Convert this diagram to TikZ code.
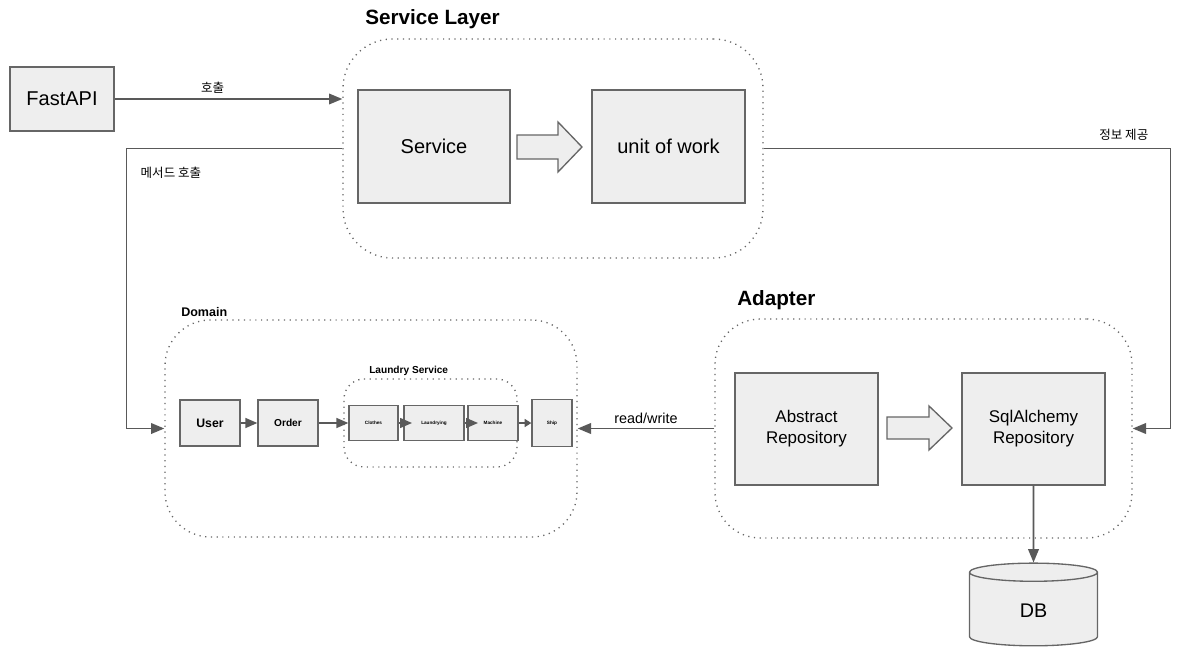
\documentclass[tikz,border=0pt]{standalone}
\usepackage{fontspec}
\setmainfont{Liberation Sans}
\newfontfamily\krfont{Noto Sans CJK KR}
\usetikzlibrary{arrows.meta, shapes.geometric}
\definecolor{boxfill}{HTML}{EEEEEE}
\definecolor{boxline}{HTML}{666666}
\definecolor{flowline}{HTML}{595959}

\begin{document}
\begin{tikzpicture}[x=0.75pt, y=-0.75pt,
  box/.style={draw=boxline, fill=boxfill, line width=1pt, inner sep=1pt, align=center},
  layerbox/.style={draw=boxline, line width=1pt, dash pattern=on 0.9pt off 3.4pt, inner sep=0pt},
  layertitle/.style={anchor=west, inner sep=0pt},
  flow/.style={draw=flowline, line width=1.2pt, -{Triangle[length=10pt,width=8pt]}},
  chain/.style={draw=flowline, line width=1.1pt, -{Triangle[length=9pt,width=7.5pt]}},
  krtext/.style={font=\krfont\fontsize{9.4}{11}\selectfont}
]
\useasboundingbox (0,0) rectangle (1195,671);

\node[box, minimum width=78pt, minimum height=48pt, font=\fontsize{15}{18}\selectfont] (fastapi) at (62,99) {FastAPI};

\node[layerbox, rounded corners=37pt, minimum width=315pt, minimum height=164.25pt] (svclayer) at (553,148.5) {};
\node[layertitle, font=\bfseries\fontsize{15.5}{18}\selectfont] (svctitle) at (365,19) {Service Layer};
\node[box, minimum width=114pt, minimum height=84.75pt, font=\fontsize{15}{18}\selectfont] (svc) at (434,146.5) {Service};
\node[box, minimum width=114.75pt, minimum height=84.75pt, font=\fontsize{15}{18}\selectfont] (uow) at (668.5,146.5) {unit of work};
\draw[draw=boxline, fill=boxfill, line width=1pt] (517,135) -- (558,135) -- (558,122) -- (582,147) -- (558,172) -- (558,159) -- (517,159) -- cycle;

\node[layerbox, rounded corners=34pt, minimum width=309pt, minimum height=162.75pt] (domain) at (371,428.5) {};
\node[layertitle, font=\bfseries\fontsize{9.4}{11}\selectfont] (domtitle) at (181,312) {Domain};
\node[layerbox, rounded corners=15pt, minimum width=129.75pt, minimum height=66pt] (laundry) at (430.5,423) {};
\node[layertitle, font=\bfseries\fontsize{7.6}{9}\selectfont] (laundrytitle) at (369,371) {Laundry Service};
\node[box, minimum width=45pt, minimum height=34.5pt, font=\bfseries\fontsize{9.2}{11}\selectfont] (user) at (210,423) {User};
\node[box, minimum width=45pt, minimum height=34.5pt, font=\bfseries\fontsize{7.6}{9}\selectfont] (order) at (288,423) {Order};
\node[box, minimum width=36.75pt, minimum height=26.25pt, font=\bfseries\fontsize{3.5}{4}\selectfont] (clothes) at (373.5,423) {Clothes};
\node[box, minimum width=45pt, minimum height=26.25pt, font=\bfseries\fontsize{3.5}{4}\selectfont] (laundrying) at (434,423) {Laundrying};
\node[box, minimum width=37.5pt, minimum height=26.25pt, font=\bfseries\fontsize{3.5}{4}\selectfont] (machine) at (493,423) {Machine};
\node[box, minimum width=30pt, minimum height=35.25pt, font=\bfseries\fontsize{3.5}{4}\selectfont] (ship) at (552,423) {Ship};

\node[layerbox, rounded corners=34pt, minimum width=312.75pt, minimum height=164.25pt] (adapter) at (923.5,428.5) {};
\node[layertitle, font=\bfseries\fontsize{15.5}{18}\selectfont] (adtitle) at (737,300) {Adapter};
\node[box, minimum width=107.25pt, minimum height=84pt, font=\fontsize{12.7}{15.75}\selectfont] (absrepo) at (806.5,429) {Abstract\\Repository};
\node[box, minimum width=107.25pt, minimum height=84pt, font=\fontsize{12.7}{15.75}\selectfont] (sqlrepo) at (1033.5,429) {SqlAlchemy\\Repository};
\draw[draw=boxline, fill=boxfill, line width=1pt] (887,417) -- (929,417) -- (929,406) -- (952,428) -- (929,450) -- (929,439) -- (887,439) -- cycle;
\node[cylinder, shape border rotate=90, draw=boxline, fill=boxfill, line width=1pt, aspect=0.5, minimum width=96pt, minimum height=62pt, font=\fontsize{14.8}{17}\selectfont] (db) at (1033.5,611) {DB};

\draw[flow] (fastapi.east) -- node[krtext, above, pos=0.43] (calllbl) {호출} (fastapi.east -| svclayer.west);
\draw[flow] (svclayer.west) -- ++(-216,0) |- (domain.west);
\node[krtext, anchor=west] (methodlbl) at (136,173) {메서드 호출};
\draw[flow] (svclayer.east) -- ++(407,0) |- (adapter.east);
\node[krtext, anchor=east] (infolbl) at (1153,135) {정보 제공};
\draw[flow] (adapter.west) -- node[above, font=\fontsize{10.8}{13}\selectfont] (rwlbl) {read/write} (domain.east);
\draw[flow] (sqlrepo.south) -- (db.north);

\draw[chain] (user) -- (order);
\draw[chain] (order) -- (clothes);
\draw[chain, shorten >=-6.5pt] (clothes) -- (laundrying);
\draw[chain, shorten >=-8pt] (laundrying) -- (machine);
\draw[chain, -{Triangle[length=5pt,width=6pt]}] (machine) -- (ship);
\end{tikzpicture}
\end{document}
